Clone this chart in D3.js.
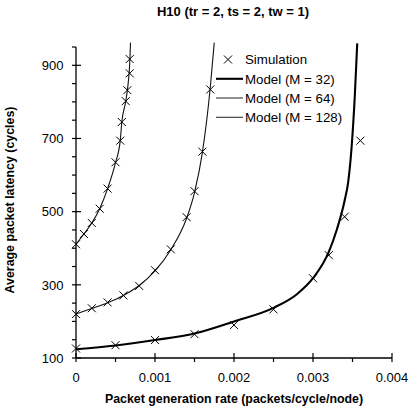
<!DOCTYPE html>
<html>
<head>
<meta charset="utf-8">
<script src="https://cdn.jsdelivr.net/npm/d3@7"></script>
<style>
  html, body { margin: 0; padding: 0; background: #fff; }
  svg { display: block; font-family: "Liberation Sans", Arial, sans-serif; }
</style>
</head>
<body>
<svg id="chart" width="409" height="410"></svg>
<script>
// ---- Data ----
const title = "H10 (tr = 2, ts = 2, tw = 1)";
const xLabel = "Packet generation rate (packets/cycle/node)";
const yLabel = "Average packet latency (cycles)";
const xTickLabels = ["0", "0.001", "0.002", "0.003", "0.004"];
const yTickLabels = ["100", "300", "500", "700", "900"];
const legendLabels = ["Simulation", "Model (M = 32)", "Model (M = 64)", "Model (M = 128)"];

// Simulation points
const sim32X = [0, 0.0005, 0.001, 0.0015, 0.002, 0.0025, 0.003, 0.0032, 0.0034, 0.0036];
const sim32Y = [126, 135, 149, 165, 190, 233, 318, 381, 486, 694];
const sim64X = [0, 0.0002, 0.0004, 0.0006, 0.0008, 0.001, 0.0012, 0.0014, 0.0015, 0.0016, 0.0017];
const sim64Y = [220, 236, 252, 271, 297, 340, 397, 485, 556, 664, 834];
const sim128X = [0, 0.0001, 0.0002, 0.0003, 0.0004, 0.0005, 0.00056, 0.00058, 0.00063, 0.00065, 0.00068, 0.00068];
const sim128Y = [411, 439, 469, 508, 563, 635, 694, 745, 802, 832, 878, 917];

// Model curves
const m32X = [0, 0.0005, 0.001, 0.0015, 0.002, 0.0025, 0.0028, 0.003, 0.0032, 0.0033, 0.0034, 0.003445, 0.00349, 0.00353, 0.00356];
const m32Y = [124, 134, 149, 167, 200, 237, 275, 318, 390, 450, 530, 580, 680, 820, 960];
const m64X = [0, 0.0002, 0.0004, 0.0006, 0.0008, 0.001, 0.0012, 0.0014, 0.0015, 0.0016, 0.0017, 0.00175];
const m64Y = [220, 235, 251, 271, 298, 338, 396, 482, 552, 662, 840, 962];
const m128X = [0, 0.0001, 0.0002, 0.0003, 0.0004, 0.0005, 0.00056, 0.00058, 0.00063, 0.00066, 0.00068, 0.00069];
const m128Y = [411, 439, 469, 508, 563, 634, 694, 745, 802, 850, 905, 962];

// ---- Build ----
const svg = d3.select("#chart");
const x = d3.scaleLinear().domain([0, 0.004]).range([76, 392]);
const y = d3.scaleLinear().domain([100, 950]).range([358, 47]);

const zip = (xs, ys) => xs.map((v, i) => [v, ys[i]]);

// Title
svg.append("text")
  .attr("x", 233).attr("y", 16)
  .attr("text-anchor", "middle")
  .attr("font-weight", "bold").attr("font-size", 13)
  .text(title);

// Axis label texts
svg.append("text")
  .attr("x", 234).attr("y", 403)
  .attr("text-anchor", "middle")
  .attr("font-weight", "bold").attr("font-size", 12.4)
  .text(xLabel);
svg.append("text")
  .attr("transform", "translate(14,200) rotate(-90)")
  .attr("text-anchor", "middle")
  .attr("font-weight", "bold").attr("font-size", 12.4)
  .text(yLabel);

// X axis
const xMinor = d3.range(0, 0.00401, 0.0005);
const gx = svg.append("g").attr("transform", "translate(0,358)");
gx.append("line").attr("x1", x(0)).attr("x2", x(0.004))
  .attr("stroke", "#000").attr("stroke-width", 1.3);
xMinor.forEach((v, i) => {
  const major = i % 2 === 0;
  gx.append("line")
    .attr("x1", x(v)).attr("x2", x(v))
    .attr("y1", major ? -5 : 0).attr("y2", 4)
    .attr("stroke", "#000").attr("stroke-width", 1.2);
});
xTickLabels.forEach((t) => {
  gx.append("text")
    .attr("x", x(+t)).attr("y", 24)
    .attr("text-anchor", "middle").attr("font-size", 13)
    .text(t);
});

// Y axis
const yMinor = d3.range(100, 951, 50);
const gy = svg.append("g").attr("transform", "translate(76,0)");
gy.append("line").attr("y1", y(100)).attr("y2", y(950))
  .attr("stroke", "#000").attr("stroke-width", 1.3);
yMinor.forEach((v) => {
  const major = yTickLabels.includes(String(v));
  gy.append("line")
    .attr("x1", -4).attr("x2", major ? 5 : 0)
    .attr("y1", y(v)).attr("y2", y(v))
    .attr("stroke", "#000").attr("stroke-width", 1.2);
});
yTickLabels.forEach((t) => {
  gy.append("text")
    .attr("x", -12.5).attr("y", y(+t))
    .attr("dy", "0.36em")
    .attr("text-anchor", "end").attr("font-size", 13)
    .text(t);
});

// Model lines
const line = d3.line().x(d => x(d[0])).y(d => y(d[1])).curve(d3.curveMonotoneX);
const models = [
  { data: zip(m32X, m32Y), w: 2.1, c: "#000" },
  { data: zip(m64X, m64Y), w: 1.1, c: "#111" },
  { data: zip(m128X, m128Y), w: 1.1, c: "#111" }
];
models.forEach(m => {
  svg.append("path").attr("d", line(m.data))
    .attr("fill", "none").attr("stroke", m.c).attr("stroke-width", m.w);
});

// Simulation crosses
const cross = (g, cx, cy, s) => {
  g.append("path")
    .attr("d", `M${cx - s},${cy - s}L${cx + s},${cy + s}M${cx - s},${cy + s}L${cx + s},${cy - s}`)
    .attr("stroke", "#000").attr("stroke-width", 1).attr("fill", "none");
};
const gm = svg.append("g");
[zip(sim32X, sim32Y), zip(sim64X, sim64Y), zip(sim128X, sim128Y)].forEach(s => {
  s.forEach(d => cross(gm, x(d[0]), y(d[1]), 4));
});

// Legend
const lg = svg.append("g");
const rowY = [59.5, 78.8, 98, 117.3];
cross(lg, 228, rowY[0], 4);
[2.1, 1.1, 1.1].forEach((w, i) => {
  lg.append("line").attr("x1", 216).attr("x2", 243)
    .attr("y1", rowY[i + 1]).attr("y2", rowY[i + 1])
    .attr("stroke", i === 0 ? "#000" : "#333").attr("stroke-width", w);
});
legendLabels.forEach((t, i) => {
  lg.append("text").attr("x", 245).attr("y", rowY[i]).attr("dy", "0.36em")
    .attr("font-size", 13.3).text(t);
});
</script>
</body>
</html>
